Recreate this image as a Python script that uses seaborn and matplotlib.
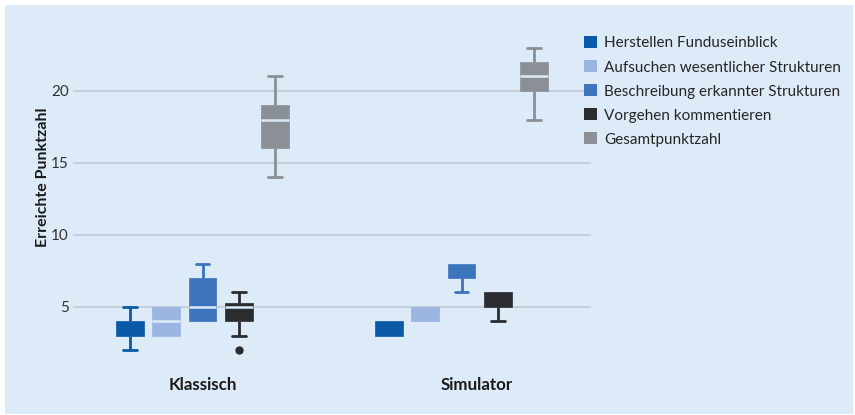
import pandas as pd
import seaborn as sns
import matplotlib
matplotlib.use('Agg')  # kein Display
import matplotlib.pyplot as plt
from matplotlib.patches import Rectangle, Patch

# Gruppen, Kategorien, Farben
groups = ["Klassisch", "Simulator"]
categories = ["Herstellen Funduseinblick", "Aufsuchen wesentlicher Strukturen",
              "Beschreibung erkannter Strukturen", "Vorgehen kommentieren", "Gesamtpunktzahl"]
colors = ["#0b5aa8", "#9bb4e2", "#3c74bd", "#2b2c30", "#8b9096"]
bg_color = "#ddeaf7"

# Punktwerte je Gruppe/Kategorie
klassisch_herstellen = [2, 3, 3, 4, 4, 4, 4, 5]
klassisch_aufsuchen = [3, 3, 3, 4, 5, 5, 5]
klassisch_beschreibung = [4, 4, 4, 5, 7, 7, 8]
klassisch_vorgehen = [2, 3, 4, 4, 4, 5, 5, 5, 5, 6, 6, 6]
klassisch_gesamt = [14, 16, 16, 17, 18, 18, 19, 19, 21]
simulator_herstellen = [3, 3, 3, 4, 4]
simulator_aufsuchen = [4, 4, 5, 5, 5]
simulator_beschreibung = [6, 7, 7, 8, 8]
simulator_vorgehen = [4, 5, 5, 6, 6]
simulator_gesamt = [18, 20, 20, 21, 21, 22, 22, 23]

y_ticks = [5, 10, 15, 20]


def build_frame():
    """Long-format table for seaborn."""
    values = {
        "Klassisch": [klassisch_herstellen, klassisch_aufsuchen, klassisch_beschreibung,
                      klassisch_vorgehen, klassisch_gesamt],
        "Simulator": [simulator_herstellen, simulator_aufsuchen, simulator_beschreibung,
                      simulator_vorgehen, simulator_gesamt],
    }
    rows = []
    for group in groups:
        for cat, vals in zip(categories, values[group]):
            for v in vals:
                rows.append({"Gruppe": group, "Kategorie": cat, "Punkte": v})
    return pd.DataFrame(rows)


df = build_frame()

sns.set_style("white")
plt.rcParams['font.family'] = ['Lato', 'DejaVu Sans']

fig = plt.figure(figsize=(8.55, 4.15), dpi=100, facecolor="white")
fig.patches.append(Rectangle((5 / 855, 1 / 415), 848 / 855, 409 / 415,
                             transform=fig.transFigure, facecolor=bg_color,
                             edgecolor="none", zorder=-5))
ax = fig.add_axes([73 / 855, 55 / 415, 518 / 855, 321 / 415])
ax.set_facecolor("none")

sns.boxplot(data=df, x="Gruppe", y="Punkte", hue="Kategorie", order=groups,
            hue_order=categories, palette=colors, saturation=1, width=0.7, gap=0.23,
            linewidth=1.6, legend=False, ax=ax,
            flierprops=dict(marker="o", markersize=5))

# Linien pro Kategorie einfaerben, leere Whisker / Randmediane ausblenden
for container, col in zip(ax.containers, colors):
    for i, box in enumerate(container.boxes):
        box.set_facecolor(col)
        box.set_edgecolor(col)
        box.set_linewidth(0.5)
        ys = box.get_path().vertices[:, 1]
        med = container.medians[i]
        med.set_color(bg_color)
        med.set_linewidth(1.8)
        my = med.get_ydata()[0]
        if my <= ys.min() or my >= ys.max():
            med.set_visible(False)
        for j in (2 * i, 2 * i + 1):
            wh = container.whiskers[j]
            cap = container.caps[j]
            for ln in (wh, cap):
                ln.set_color(col)
                ln.set_linewidth(2)
            wy = wh.get_ydata()
            if wy[0] == wy[1]:
                wh.set_visible(False)
                cap.set_visible(False)
    for ln in container.fliers:
        ln.set_markerfacecolor(col)
        ln.set_markeredgecolor(col)

ax.set_xlim(-0.5, 1.5)
ax.set_ylim(1.3, 23.6)
ax.set_yticks(y_ticks)
ax.set_yticklabels([str(t) for t in y_ticks], fontsize=11, color="#333333")
ax.set_xticks([0, 1.057])
ax.set_xticklabels(groups, fontsize=12.2, fontweight="bold", color="#1a1a1a")
ax.tick_params(axis="both", length=0)
ax.tick_params(axis="x", pad=12)
ax.tick_params(axis="y", pad=3)
ax.grid(axis="y", color="#c3cfdb", linewidth=1.4)
ax.set_axisbelow(True)
for s in ax.spines.values():
    s.set_visible(False)
ax.set_xlabel("")
ax.set_ylabel("Erreichte Punktzahl", fontsize=11.5, fontweight="bold", color="#1a1a1a")
ax.yaxis.set_label_coords(-0.044, 0.57)

handles = [Patch(facecolor=c, edgecolor="none") for c in colors]
fig.legend(handles, categories, loc="upper left", bbox_to_anchor=(578 / 855, 1 - 30 / 415),
           frameon=False, fontsize=11, handlelength=0.85, handleheight=0.85,
           handletextpad=0.45, labelspacing=0.63, borderaxespad=0)

fig.savefig("out.png", dpi=100, facecolor="white")
